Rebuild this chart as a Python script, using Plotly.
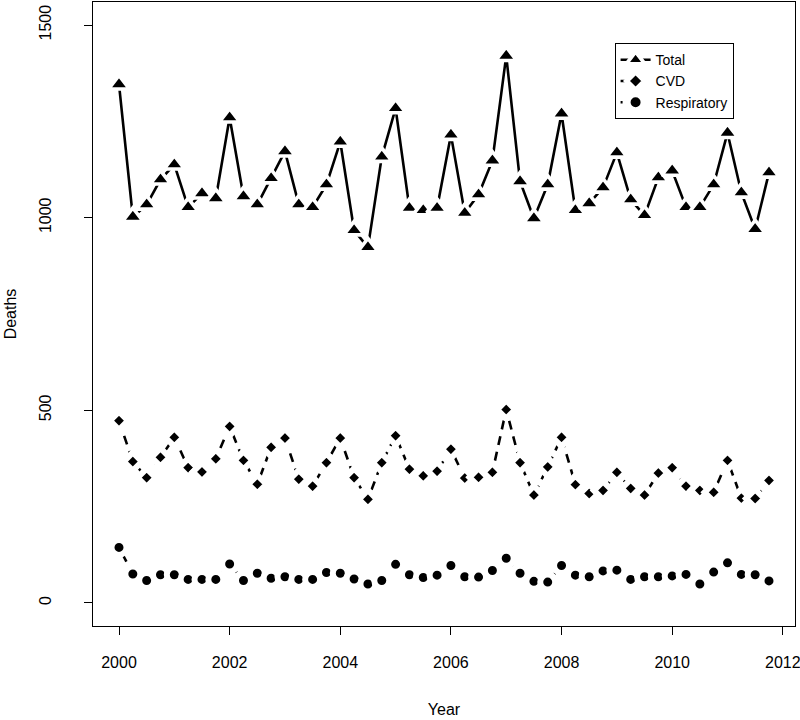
import plotly.graph_objects as go

time = [2000.00, 2000.25, 2000.50, 2000.75, 2001.00, 2001.25, 2001.50, 2001.75,
        2002.00, 2002.25, 2002.50, 2002.75, 2003.00, 2003.25, 2003.50, 2003.75,
        2004.00, 2004.25, 2004.50, 2004.75, 2005.00, 2005.25, 2005.50, 2005.75,
        2006.00, 2006.25, 2006.50, 2006.75, 2007.00, 2007.25, 2007.50, 2007.75,
        2008.00, 2008.25, 2008.50, 2008.75, 2009.00, 2009.25, 2009.50, 2009.75,
        2010.00, 2010.25, 2010.50, 2010.75, 2011.00, 2011.25, 2011.50, 2011.75]

total = [1346, 1002, 1034, 1099, 1138, 1027, 1063, 1050,
         1260, 1055, 1034, 1102, 1172, 1034, 1027, 1086,
         1197, 967, 923, 1158, 1284, 1025, 1019, 1025,
         1215, 1012, 1060, 1148, 1420, 1094, 998, 1086,
         1270, 1019, 1037, 1078, 1169, 1047, 1006, 1104,
         1122, 1027, 1027, 1086, 1220, 1065, 970, 1117]

cvd = [473, 367, 325, 378, 430, 351, 340, 374,
       458, 370, 308, 404, 428, 321, 303, 364,
       428, 325, 269, 364, 434, 347, 330, 342,
       399, 324, 326, 339, 502, 364, 280, 353,
       430, 307, 284, 292, 339, 297, 280, 337,
       351, 303, 292, 287, 370, 272, 271, 318]

resp = [144, 75, 58, 73, 73, 61, 61, 61,
        101, 58, 77, 64, 68, 61, 61, 79,
        77, 62, 49, 58, 100, 73, 66, 72,
        97, 68, 67, 84, 116, 77, 56, 54,
        97, 72, 68, 83, 85, 61, 68, 68,
        70, 74, 49, 80, 104, 74, 73, 57]

x_ticks = [2000, 2002, 2004, 2006, 2008, 2010, 2012]
y_ticks = [0, 500, 1000, 1500]

fig = go.Figure()
fig.add_trace(go.Scatter(
    x=time, y=total, name="Total", mode="lines+markers",
    line=dict(color="black", width=2.6, dash="solid"),
    marker=dict(symbol="triangle-up", size=18, color="black",
                line=dict(color="white", width=3.6)),
))
fig.add_trace(go.Scatter(
    x=time, y=cvd, name="CVD", mode="lines+markers",
    line=dict(color="black", width=2.6, dash="9px,7px"),
    marker=dict(symbol="diamond", size=14, color="black",
                line=dict(color="white", width=6)),
))
fig.add_trace(go.Scatter(
    x=time, y=resp, name="Respiratory", mode="lines+markers",
    line=dict(color="black", width=2.6, dash="2px,6px,8px,6px"),
    marker=dict(symbol="circle", size=15, color="black",
                line=dict(color="white", width=6)),
))

fig.update_layout(
    width=800, height=720,
    margin=dict(l=93, r=5, t=2, b=94),
    paper_bgcolor="white", plot_bgcolor="white",
    font=dict(family="Liberation Sans, Arial, sans-serif", size=16, color="black"),
    showlegend=True,
    legend=dict(
        x=0.743, y=0.934, xanchor="left", yanchor="top",
        bordercolor="black", borderwidth=1, bgcolor="white",
        font=dict(size=14), tracegroupgap=0, itemwidth=30,
    ),
    xaxis=dict(
        range=[1999.53, 2012.22], tickvals=x_ticks,
        showgrid=False, zeroline=False, automargin=False,
        showline=True, mirror=True, linecolor="black", linewidth=1,
        ticks="outside", ticklen=8, tickcolor="black",
        ticklabelstandoff=14, ticklabeloverflow="allow",
        title=dict(text="Year", standoff=33, font=dict(size=16)),
    ),
    yaxis=dict(
        range=[-60, 1560], tickvals=y_ticks, tickangle=-90,
        showgrid=False, zeroline=False, automargin=False,
        showline=True, mirror=True, linecolor="black", linewidth=1,
        ticks="outside", ticklen=8, tickcolor="black",
        ticklabelstandoff=27, ticklabeloverflow="allow",
        title=dict(text="Deaths", standoff=15, font=dict(size=16)),
    ),
)

fig.write_html("out.html",
               config={"displayModeBar": False},
               post_script="document.body.style.margin='0';document.body.style.overflow='hidden';")
